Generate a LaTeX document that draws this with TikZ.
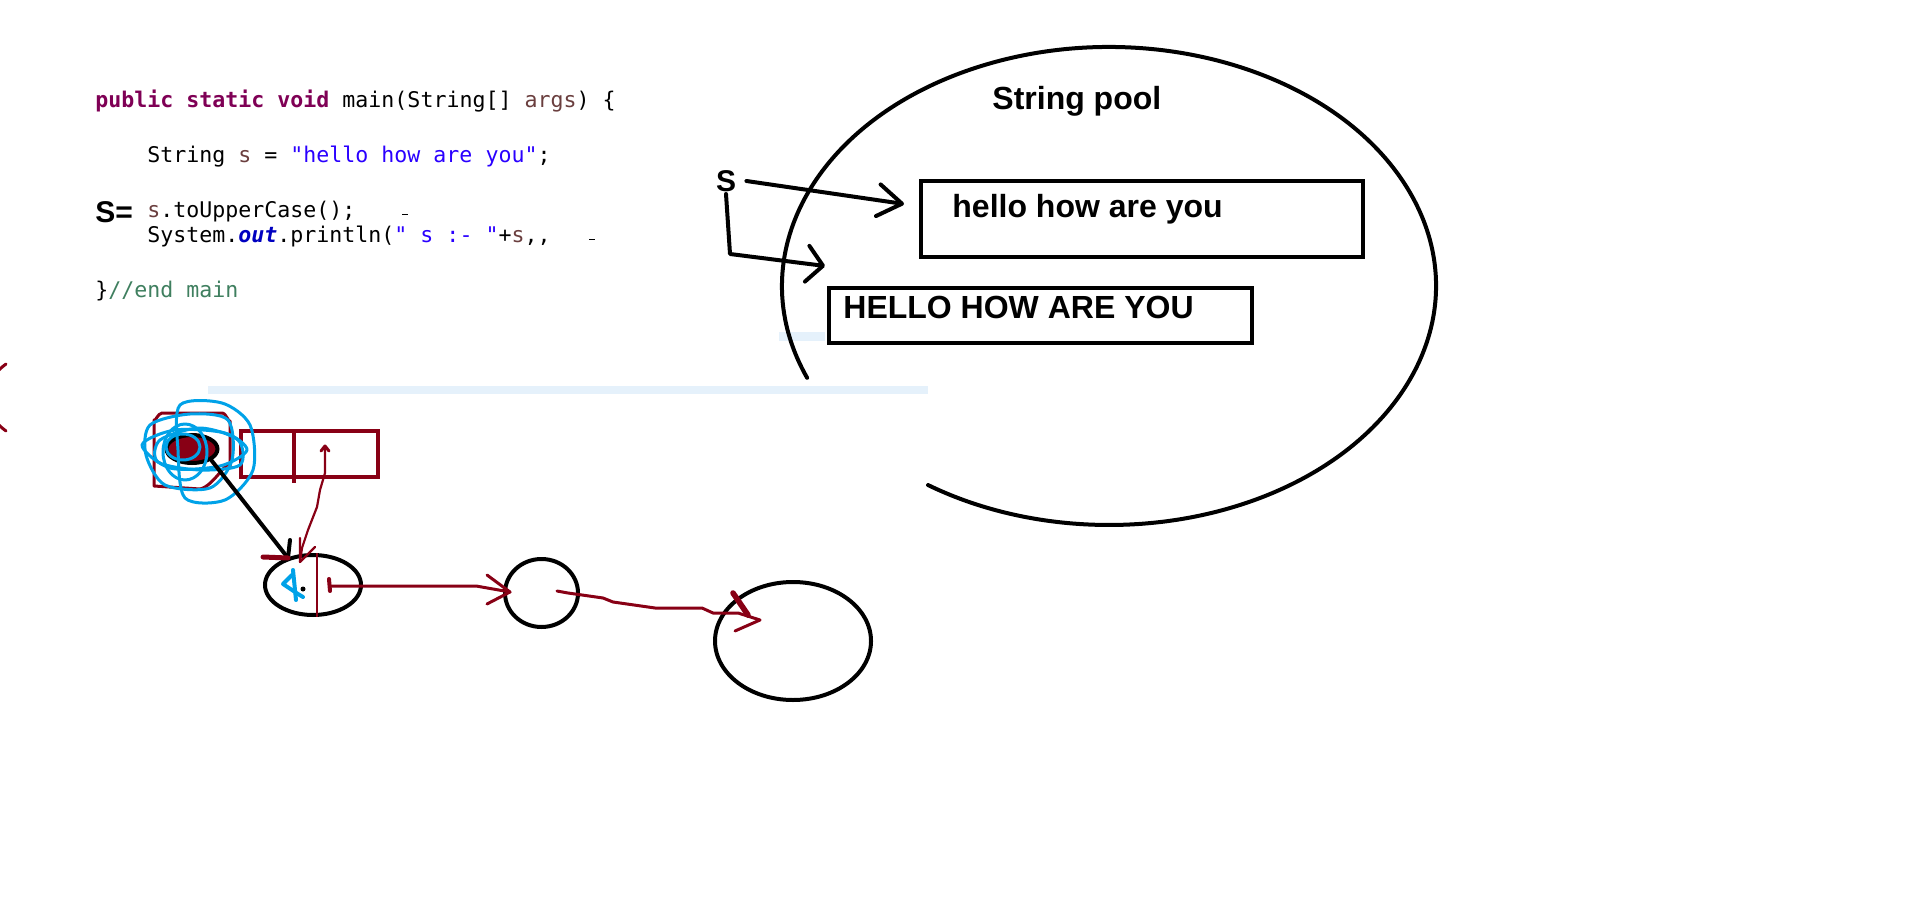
\documentclass[tikz,border=0pt]{standalone}
\usepackage{fontspec}
\setmainfont{Liberation Sans}
\newfontfamily\codefont{DejaVu Sans Mono}
\usetikzlibrary{arrows.meta,positioning,shapes.geometric}
\definecolor{paintred}{RGB}{136,0,21}
\definecolor{paintblue}{RGB}{0,162,232}
\definecolor{selblue}{RGB}{229,241,251}
\definecolor{jkeyword}{RGB}{127,0,85}
\definecolor{jvar}{RGB}{106,62,62}
\definecolor{jstring}{RGB}{42,0,255}
\definecolor{jfield}{RGB}{0,0,192}
\definecolor{jcomment}{RGB}{63,127,95}
\newcommand{\kw}[1]{\textcolor{jkeyword}{\bfseries #1}}
\newcommand{\jv}[1]{\textcolor{jvar}{#1}}
\newcommand{\js}[1]{\textcolor{jstring}{#1}}
\newcommand{\jf}[1]{\textcolor{jfield}{\bfseries\itshape #1}}
\newcommand{\jc}[1]{\textcolor{jcomment}{#1}}
\tikzset{
  codeline/.style={
    anchor=base west,
    inner sep=0pt,
    font=\codefont\fontsize{10.8pt}{13pt}\selectfont
  },
  bigtext/.style={
    anchor=base west,
    inner sep=0pt,
    font=\bfseries\fontsize{16pt}{19pt}\selectfont
  },
  pen/.style={
    line width=2pt,
    line cap=round,
    line join=round
  },
  redpen/.style={
    draw=paintred,
    line width=1.5pt,
    line cap=round,
    line join=round
  },
  thinred/.style={
    redpen,
    line width=1.1pt
  },
  scribble/.style={
    draw=paintblue,
    line width=1.5pt,
    line cap=round,
    line join=round
  },
  poolbox/.style={
    rectangle,
    draw,
    line width=2pt,
    inner sep=0pt,
    anchor=north west
  },
  blob/.style={
    ellipse,
    draw,
    line width=2pt,
    inner sep=0pt
  },
  barb/.style={
    -{Straight Barb[length=12pt, width=16pt, round]}
  },
  selbar/.style={
    fill=selblue,
    draw=none
  }
}
\begin{document}
\begin{tikzpicture}[x=0.5pt, y=-0.5pt]
  \useasboundingbox (0,0) rectangle (1914,903);
  \clip (0,0) rectangle (1914,903);

  % pasted selection strips
  \fill[selbar] (779,332) rectangle (825,341);
  \fill[selbar] (208,386) rectangle (928,394);

  % java code
  \node[codeline] (sig) at (95,108) {\kw{public static void} main(String[] \jv{args}) \{};
  \node[codeline] (decl) at (147,163) {String \jv{s} = \js{"hello how are you"};};
  \node[codeline] (upcase) at (147,218) {\jv{s}.toUpperCase();};
  \node[codeline] (print) at (147,243) {System.\jf{out}.println(\js{" s :- "}+\jv{s},,};
  \node[codeline] (close) at (95,298) {\}\jc{//end main}};
  \node[anchor=base west, inner sep=0pt, font=\bfseries\fontsize{15pt}{17pt}\selectfont] (assign) at (95,223) {S=};
  \draw[line width=0.45pt] (402,214) -- (408,214);
  \draw[line width=0.45pt] (589,239) -- (595,239);

  % string pool
  \coordinate (pool) at (1109,286);
  \draw[pen] (pool) ++(157.4:327 and 239) arc[start angle=157.4, end angle=483.6, x radius=327, y radius=239];
  \node[bigtext] (pooltitle) at (992,110) {String pool};
  \node[poolbox, minimum width=221pt, minimum height=38pt] (lower) at (919,179) {};
  \node[bigtext] (lowertext) at ([shift={(33,39)}]lower.north west) {hello how are you};
  \node[poolbox, minimum width=211.5pt, minimum height=27.5pt] (upper) at (827,286) {};
  \node[bigtext] (uppertext) at ([shift={(16,33)}]upper.north west) {HELLO HOW ARE YOU};

  % reference s
  \node[font=\bfseries\fontsize{15pt}{18pt}\selectfont, inner xsep=5pt, inner ysep=1pt] (sref) at (726,181) {S};
  \coordinate (tiplower) at (904,204);
  \coordinate (tipupper) at (825,266);
  \draw[pen, barb] (sref.east) -- (tiplower);
  \draw[pen, -{Straight Barb[length=8pt, width=18pt, round]}] (sref.south) -- (730,254) -- (tipupper);

  % edge marks
  \draw[redpen] (6,364) .. controls (-22,385) and (-22,410) .. (6,431);

  % array and pointer blob
  \draw[paintred, line width=1.5pt, line join=round] (154,486) -- (154,420) to[out=-90,in=180] (162,413) -- (222,413) to[out=0,in=-90] (230,421) -- (230,468) to[out=90,in=10] (200,489) -- cycle;
  \node[poolbox, draw=paintred, minimum width=68.5pt, minimum height=23pt] (arr) at (239,429) {};
  \draw[paintred, line width=2pt] (294,429) -- (294,483);
  \node[blob, fill=paintred, minimum width=25.5pt, minimum height=14pt] (sptr) at (192,449) {};
  \draw[scribble] plot[smooth cycle] coordinates {(180,405) (222,403) (250,425) (253,470) (225,500) (185,498) (178,450)};
  \draw[scribble] plot[smooth cycle] coordinates {(142,445) (175,430) (225,433) (247,450) (220,466) (170,468)};
  \draw[scribble] (185,452) ellipse[x radius=22, y radius=28];
  \draw[scribble] plot[smooth cycle] coordinates {(150,425) (190,414) (228,420) (232,460) (210,488) (165,485) (146,455)};
  \draw[scribble] (183,447) ellipse[x radius=17, y radius=13];
  \draw[scribble] plot[smooth cycle] coordinates {(160,440) (200,428) (238,440) (240,465) (200,470) (158,462)};

  % linked nodes
  \node[blob, minimum width=48pt, minimum height=30pt] (first) at (313,585) {};
  \node[blob, minimum width=36.5pt, minimum height=34pt] (second) at (541.5,593) {};
  \node[blob, minimum width=78pt, minimum height=59pt] (third) at (793,641) {};
  \draw[paintred, line width=1pt] ([xshift=2pt]first.north) -- ([xshift=2pt]first.south);
  \draw[scribble, line width=2pt] (293,570) -- (296,600);
  \draw[scribble, line width=2pt] (292,575) -- (283,584) -- (298,594) -- (303,597);
  \fill (303,589) circle[radius=2.5];

  % pointer into first node
  \coordinate (hit) at (288,558);
  \draw[pen] (sptr.south east) -- (hit);
  \draw[pen] (hit) -- ++(2,-18);
  \draw[paintred, line width=2.5pt, line cap=round] (hit) ++(-25,-1) -- (hit);

  % cell back to first node
  \coordinate (cell) at (325,446);
  \coordinate (drop) at (300,562);
  \draw[thinred] (cell) -- (325,473) -- (320,490) -- (317,507) -- (308,530) -- (302,548) -- (drop);
  \draw[thinred] (300,538) -- (drop) -- (315,547);
  \draw[redpen] (321,451) -- (cell) -- (329,451);

  % first to second
  \coordinate (into2) at (510,592);
  \draw[redpen, line width=2pt] (329,579) -- (330,591);
  \draw[redpen] (330,586) -- (476,586) -- (into2);
  \draw[redpen] (487,575) -- (into2) -- (487,604);

  % second to third
  \coordinate (into3) at (760,620);
  \draw[redpen] (557,591) -- (568,593) -- (603,598) -- (613,602) -- (655,608) -- (702,608) -- (713,613) -- (738,613) -- (into3);
  \draw[redpen, line width=2.8pt] (733,593) -- (748,615);
  \draw[redpen] (735,631) -- (into3);
\end{tikzpicture}
\end{document}
